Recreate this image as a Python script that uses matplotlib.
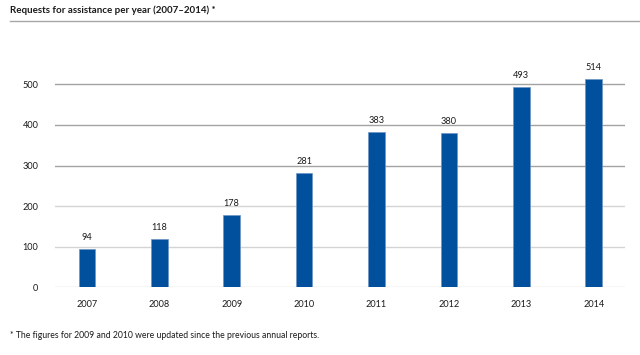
import matplotlib.pyplot as plt

years = ['2007', '2008', '2009', '2010', '2011', '2012', '2013', '2014']
requests = [94, 118, 178, 281, 383, 380, 493, 514]
yticks = [0, 100, 200, 300, 400, 500]

plt.rcParams['font.family'] = ['Lato', 'DejaVu Sans']

fig = plt.figure(figsize=(6.4, 3.55), dpi=100)
ax = fig.add_axes([0.0859, 0.1907, 0.8906, 0.6862])

# gridlines: upper ones darker, lower ones lighter as in the original
for t in yticks:
    col = '#a3a3a3' if t >= 300 else '#d4d4d4'
    ax.axhline(t, color=col, linewidth=1.0, zorder=0)

x = range(len(years))
bars = ax.bar(x, requests, width=0.23, color='#01509d', edgecolor='#6f94c4', linewidth=0.5, zorder=2)
for xi, v in zip(x, requests):
    ax.annotate(str(v), (xi, v), xytext=(0, 5), textcoords='offset points',
                ha='center', va='bottom', fontsize=6.6, color='#1a1a1a')

ax.set_xlim(-0.44, 7.43)
ax.set_ylim(0, 600)
ax.set_xticks(list(x))
ax.set_xticklabels(years)
ax.set_yticks(yticks)
ax.tick_params(axis='both', length=0, labelsize=6.6, colors='#1a1a1a')
ax.tick_params(axis='y', pad=12)
ax.tick_params(axis='x', pad=9)
for s in ax.spines.values():
    s.set_visible(False)

fig.text(10 / 640, 1 - 10 / 355, 'Requests for assistance per year (2007–2014) *',
         fontsize=7, fontweight='bold', va='center', ha='left', color='#1a1a1a')
fig.add_artist(plt.Line2D([10 / 640, 1], [1 - 20.5 / 355, 1 - 20.5 / 355],
                          color='#a8a8a8', linewidth=1.0))
fig.text(10 / 640, 1 - 336 / 355,
         '* The figures for 2009 and 2010 were updated since the previous annual reports.',
         fontsize=6.2, va='center', ha='left', color='#1a1a1a')

fig.savefig('out.png', dpi=100)
